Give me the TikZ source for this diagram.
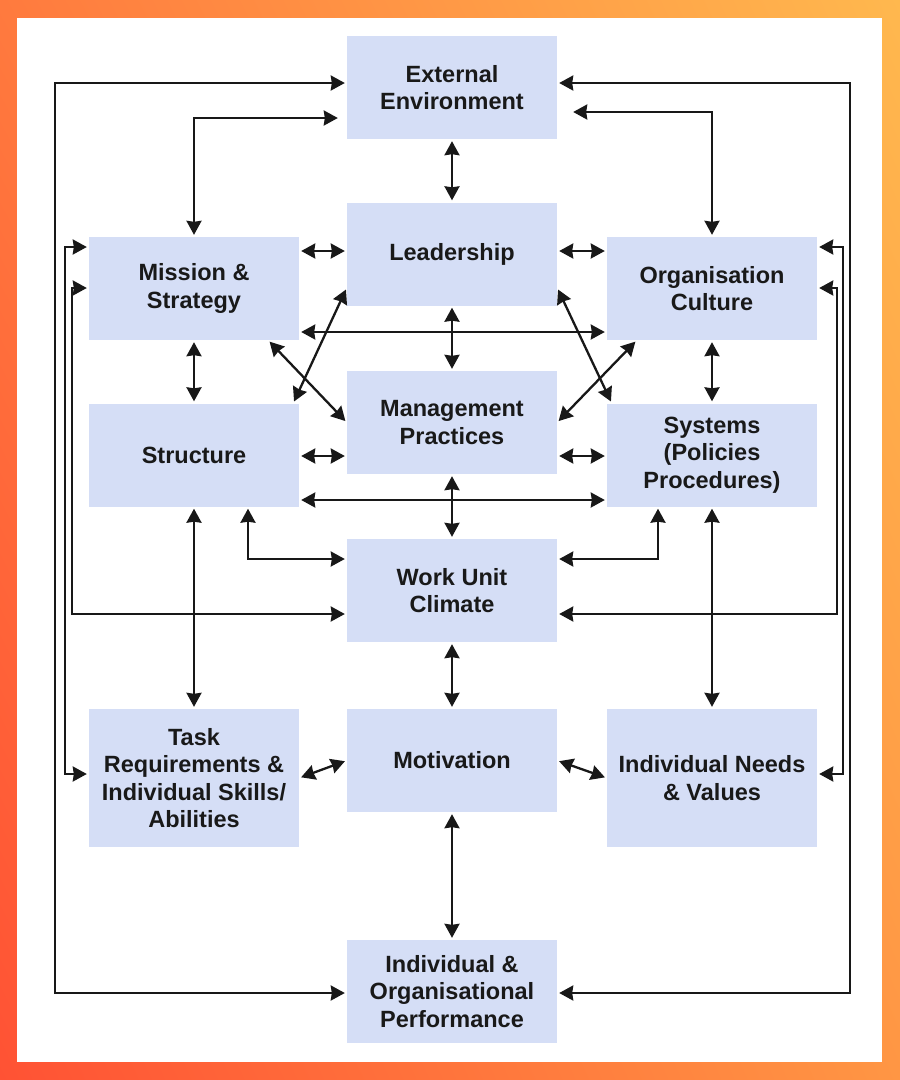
\documentclass[tikz,border=0pt]{standalone}
\usepackage{fontspec}
\setmainfont{Liberation Sans}
\usetikzlibrary{arrows.meta,shadings}
\definecolor{boxblue}{RGB}{213,222,246}
\definecolor{linegray}{RGB}{24,24,24}
\definecolor{bgTL}{RGB}{255,122,62}
\definecolor{bgTR}{RGB}{255,184,78}
\definecolor{bgBL}{RGB}{255,82,52}
\definecolor{bgBR}{RGB}{255,150,68}
\begin{document}
\begin{tikzpicture}[x=1pt,y=-1pt,
	>={Stealth[length=14pt,width=15pt,inset=1pt]},
	box/.style={fill=boxblue, minimum width=210pt, minimum height=103pt, inner sep=0pt, align=center, text=black!90, font=\myfontbox},
	tallbox/.style={box, minimum height=138pt},
	link/.style={draw=linegray, line width=2.3pt, <->, shorten <=2pt, shorten >=2pt}]
			\newcommand{\myfontbox}{\fontsize{23.5}{27.5}\selectfont\bfseries}
			\useasboundingbox (0,0) rectangle (900,1080);
			%Frame
			\shade[upper left=bgTL, upper right=bgTR, lower left=bgBL, lower right=bgBR] (0,0) rectangle (900,1080);
			\fill[white] (17,18) rectangle (882,1062);
			%Centres of the boxes
			\coordinate (centerEnv) at (452,87.5);
			\coordinate (centerLead) at (452,254);
			\coordinate (centerMission) at (194,288.5);
			\coordinate (centerCulture) at (712,288.5);
			\coordinate (centerMgmt) at (452,422.5);
			\coordinate (centerStruct) at (194,455);
			\coordinate (centerSystems) at (712,455);
			\coordinate (centerClimate) at (452,590.5);
			\coordinate (centerTask) at (194,778);
			\coordinate (centerMotiv) at (452,760.5);
			\coordinate (centerNeeds) at (712,778);
			\coordinate (centerPerf) at (452,991.5);
			%The boxes
			\node [box] (env) at (centerEnv) {External\\Environment};
			\node [box] (lead) at (centerLead) {Leadership};
			\node [box] (mission) at (centerMission) {Mission \&\\Strategy};
			\node [box] (culture) at (centerCulture) {Organisation\\Culture};
			\node [box] (mgmt) at (centerMgmt) {Management\\Practices};
			\node [box] (struct) at (centerStruct) {Structure};
			\node [box] (systems) at (centerSystems) {Systems\\(Policies\\Procedures)};
			\node [box] (climate) at (centerClimate) {Work Unit\\Climate};
			\node [tallbox] (task) at (centerTask) {Task\\Requirements \&\\Individual Skills/\\Abilities};
			\node [box] (motiv) at (centerMotiv) {Motivation};
			\node [tallbox] (needs) at (centerNeeds) {Individual Needs\\\& Values};
			\node [box] (perf) at (centerPerf) {Individual \&\\Organisational\\Performance};
			%Outer loops left
			\coordinate (outerLtop) at (55,83);
			\coordinate (outerLbot) at (55,993);
			\coordinate (loopAtop) at (65,247);
			\coordinate (loopAbot) at (65,774);
			\coordinate (loopBtop) at (72,288);
			\coordinate (loopBbot) at (72,614);
			\draw[link] (env.west |- outerLtop) -- (outerLtop) -- (outerLbot) -- (perf.west |- outerLbot);
			\draw[link] (mission.west |- loopAtop) -- (loopAtop) -- (loopAbot) -- (task.west |- loopAbot);
			\draw[link] (mission.west |- loopBtop) -- (loopBtop) -- (loopBbot) -- (climate.west |- loopBbot);
			%Outer loops right
			\coordinate (outerRtop) at (850,83);
			\coordinate (outerRbot) at (850,993);
			\coordinate (loopCtop) at (843,247);
			\coordinate (loopCbot) at (843,774);
			\coordinate (loopDtop) at (837,288);
			\coordinate (loopDbot) at (837,614);
			\draw[link] (env.east |- outerRtop) -- (outerRtop) -- (outerRbot) -- (perf.east |- outerRbot);
			\draw[link] (culture.east |- loopCtop) -- (loopCtop) -- (loopCbot) -- (needs.east |- loopCbot);
			\draw[link] (culture.east |- loopDtop) -- (loopDtop) -- (loopDbot) -- (climate.east |- loopDbot);
			%Top bends to the environment
			\coordinate (missionBend) at (194,118);
			\coordinate (cultureBend) at (712,112);
			\draw[link, shorten >=9pt] (mission.north) -- (missionBend) -- (env.west |- missionBend);
			\draw[link, shorten >=16pt] (culture.north) -- (cultureBend) -- (env.east |- cultureBend);
			%Rows of horizontal arrows
			\coordinate (rowA) at (0,251);
			\coordinate (rowB) at (0,332);
			\coordinate (rowC) at (0,456);
			\coordinate (rowD) at (0,500);
			\draw[link] (mission.east |- rowA) -- (lead.west |- rowA);
			\draw[link] (lead.east |- rowA) -- (culture.west |- rowA);
			\draw[link] (mission.east |- rowB) -- (culture.west |- rowB);
			\draw[link] (struct.east |- rowC) -- (mgmt.west |- rowC);
			\draw[link] (mgmt.east |- rowC) -- (systems.west |- rowC);
			\draw[link] (struct.east |- rowD) -- (systems.west |- rowD);
			\draw[link] (task.east) -- (motiv.west);
			\draw[link] (motiv.east) -- (needs.west);
			%Vertical arrows
			\draw[link] (env.south) -- (lead.north);
			\draw[link] (lead.south) -- (mgmt.north);
			\draw[link] (mgmt.south) -- (climate.north);
			\draw[link] (climate.south) -- (motiv.north);
			\draw[link] (motiv.south) -- (perf.north);
			\draw[link] (mission.south) -- (struct.north);
			\draw[link] (struct.south) -- (task.north);
			\draw[link] (culture.south) -- (systems.north);
			\draw[link] (systems.south) -- (needs.north);
			%Diagonals
			\draw[link] ([xshift=-31pt]mission.south east) -- (mgmt.west);
			\draw[link] ([yshift=18pt]lead.south west) -- ([xshift=-6pt]struct.north east);
			\draw[link] ([yshift=18pt]lead.south east) -- ([xshift=5pt]systems.north west);
			\draw[link] ([xshift=30pt]culture.south west) -- (mgmt.east);
			%Bends to the work unit climate
			\coordinate (structBend) at (248,559);
			\coordinate (systemsBend) at (658,559);
			\draw[link] (struct.south -| structBend) -- (structBend) -- (climate.west |- structBend);
			\draw[link] (systems.south -| systemsBend) -- (systemsBend) -- (climate.east |- systemsBend);
			\end{tikzpicture}
\end{document}
